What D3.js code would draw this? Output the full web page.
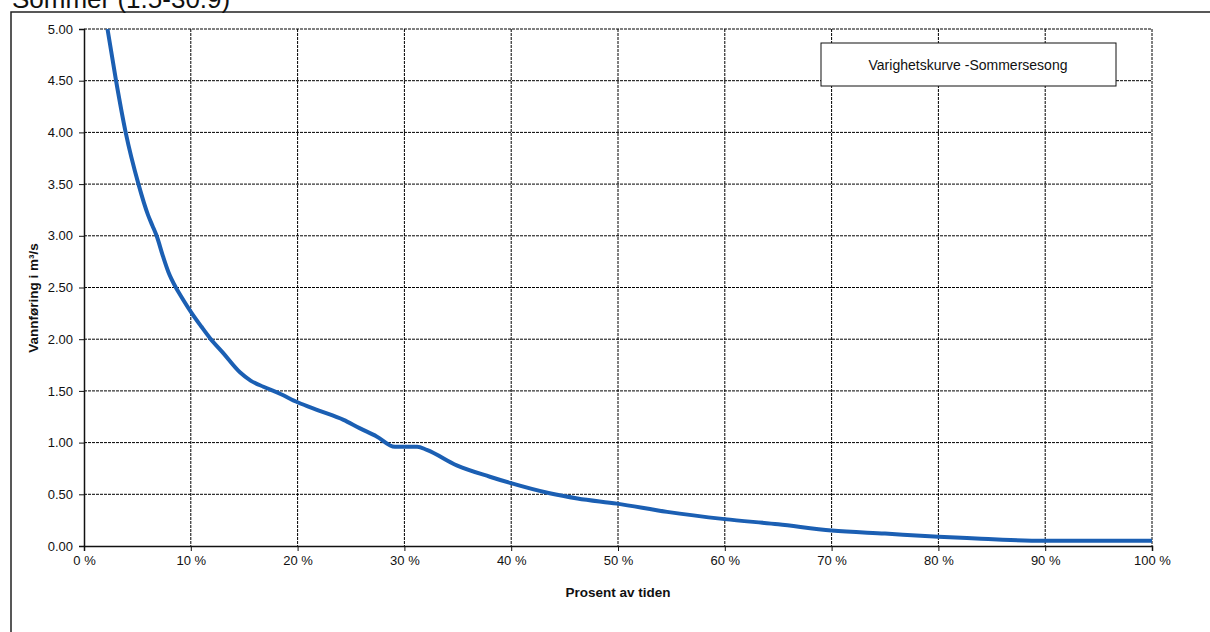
<!DOCTYPE html>
<html>
<head>
<meta charset="utf-8">
<script src="https://cdn.jsdelivr.net/npm/d3@7.9.0/dist/d3.min.js"></script>
<style>
  body { margin: 0; background: #fff; }
  svg { display: block; font-family: "Liberation Sans", Arial, sans-serif; }
</style>
</head>
<body>
<svg id="chart" width="1210" height="632"></svg>
<script>
// percent of time (x) and discharge m3/s (y)
const pctTime = [2.2, 3.0, 3.9, 5.1, 6.0, 6.4, 6.8, 7.4, 7.9, 8.6, 9.0, 10.1, 11.0, 11.8, 13.0,
  14.6, 15.6, 16.8, 18.4, 20.0, 22.0, 24.3, 25.8, 27.4, 29.1, 31.2, 32.1, 34.9, 38.0, 39.9,
  43.6, 46.2, 49.9, 54.6, 60.0, 65.0, 70.0, 75.0, 80.0, 84.0, 86.0, 90.0, 100];
const flow = [5.0, 4.5, 4.0, 3.5, 3.2, 3.1, 3.0, 2.8, 2.65, 2.5, 2.43, 2.25, 2.12, 2.01, 1.87,
  1.68, 1.60, 1.54, 1.47, 1.39, 1.31, 1.22, 1.14, 1.06, 0.96, 0.96, 0.93, 0.78, 0.67, 0.61,
  0.51, 0.46, 0.41, 0.33, 0.26, 0.21, 0.15, 0.12, 0.09, 0.07, 0.06, 0.05, 0.05];
const xTicks = [0, 10, 20, 30, 40, 50, 60, 70, 80, 90, 100];
const yTicks = [0, 0.5, 1, 1.5, 2, 2.5, 3, 3.5, 4, 4.5, 5];

const svg = d3.select('#chart');
const plotL = 84, plotR = 1152, plotT = 29, plotB = 546;

const x = d3.scaleLinear().domain([0, 100]).range([plotL, plotR]);
const y = d3.scaleLinear().domain([0, 5]).range([plotB, plotT]);

// outer frame (left + top)
svg.append('path')
  .attr('d', `M11,632 V12 H1210`)
  .attr('fill', 'none').attr('stroke', '#222').attr('stroke-width', 1.5);

// title, cut off at the top like the scan
svg.append('text')
  .attr('x', 12).attr('y', 8)
  .attr('font-size', 26)
  .attr('fill', '#111')
  .text('Sommer (1.5-30.9)');

// grid
const grid = svg.append('g').attr('stroke', '#000').attr('stroke-width', 1)
  .attr('stroke-dasharray', '3,1');
grid.selectAll('.hg').data(yTicks.filter(d => d > 0)).enter().append('line')
  .attr('x1', plotL).attr('x2', plotR)
  .attr('y1', d => y(d)).attr('y2', d => y(d));
grid.selectAll('.vg').data(xTicks.filter(d => d > 0)).enter().append('line')
  .attr('y1', plotT).attr('y2', plotB)
  .attr('x1', d => x(d)).attr('x2', d => x(d));

// axes
const yAxis = svg.append('g')
  .attr('transform', `translate(${plotL},0)`)
  .call(d3.axisLeft(y).tickValues(yTicks).tickFormat(d3.format('.2f')).tickSize(5).tickPadding(6));
const xAxis = svg.append('g')
  .attr('transform', `translate(0,${plotB})`)
  .call(d3.axisBottom(x).tickValues(xTicks).tickFormat(d => d + ' %').tickSize(5).tickPadding(5));
[yAxis, xAxis].forEach(a => {
  a.select('.domain').attr('stroke', '#111').attr('stroke-width', 1.5);
  a.selectAll('.tick line').attr('stroke', '#111');
  a.selectAll('.tick text').attr('font-size', 13).attr('fill', '#111')
    .attr('font-family', '"Liberation Sans", Arial, sans-serif');
});

// curve
const line = d3.line().x((d, i) => x(pctTime[i])).y(d => y(d)).curve(d3.curveMonotoneX);
svg.append('path')
  .datum(flow)
  .attr('d', line)
  .attr('fill', 'none')
  .attr('stroke', '#1b5fb3')
  .attr('stroke-width', 4)
  .attr('stroke-linejoin', 'round');

// axis titles
svg.append('text')
  .attr('transform', `translate(38,298) rotate(-90)`)
  .attr('text-anchor', 'middle')
  .attr('font-size', 13.5).attr('font-weight', 'bold').attr('fill', '#111')
  .text('Vannføring i m³/s');
svg.append('text')
  .attr('x', (plotL + plotR) / 2).attr('y', 597)
  .attr('text-anchor', 'middle')
  .attr('font-size', 13.5).attr('font-weight', 'bold').attr('fill', '#111')
  .text('Prosent av tiden');

// legend box
svg.append('rect')
  .attr('x', 821).attr('y', 43).attr('width', 295).attr('height', 43)
  .attr('fill', '#fff').attr('stroke', '#111').attr('stroke-width', 1);
svg.append('text')
  .attr('x', 968).attr('y', 70)
  .attr('text-anchor', 'middle')
  .attr('font-size', 14).attr('fill', '#111')
  .text('Varighetskurve -Sommersesong');
</script>
</body>
</html>
